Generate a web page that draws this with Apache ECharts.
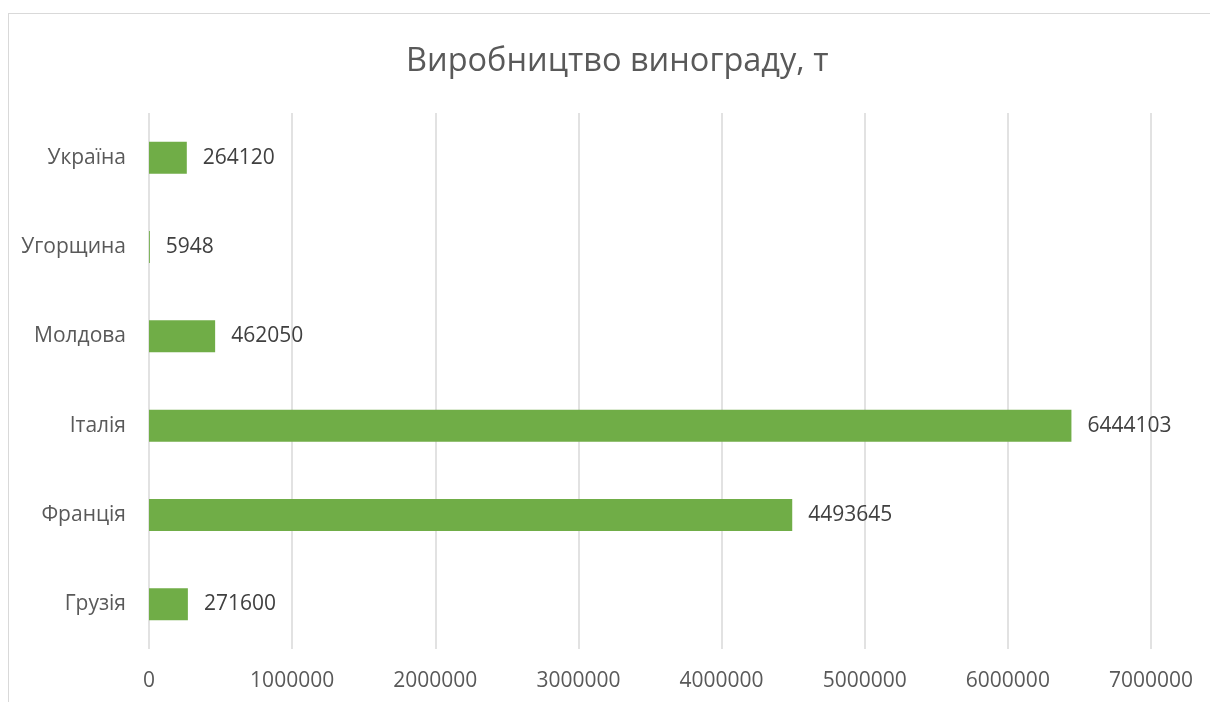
<!DOCTYPE html>
<html>
<head>
<meta charset="utf-8">
<script src="https://cdn.jsdelivr.net/npm/echarts@6/dist/echarts.min.js"></script>
<style>
    html, body { margin: 0; padding: 0; background: #fff; }
    #frame { position: absolute; left: 8px; top: 13px; width: 1300px; height: 800px; border: 1px solid #d9d9d9; box-sizing: border-box; }
    #chart { position: absolute; left: 0; top: 0; width: 1210px; height: 702px; }
</style>
</head>
<body>
<div id="frame"></div>
<div id="chart"></div>
<script>
// bottom to top, same as the picture
const countries = ['Грузія', 'Франція', 'Італія', 'Молдова', 'Угорщина', 'Україна'];
const production = [271600, 4493645, 6444103, 462050, 5948, 264120];
const axisTicks = [0, 1000000, 2000000, 3000000, 4000000, 5000000, 6000000, 7000000];

const font = '"Open Sans", "Noto Sans", sans-serif';

let myChart = echarts.init(document.getElementById('chart'));
myChart.setOption({
    animation: false,
    title: {
        text: 'Виробництво винограду, т',
        left: 401,
        top: 40,
        textStyle: { fontFamily: font, fontSize: 32.5, fontWeight: 'normal', color: '#595959' }
    },
    grid: { left: 149, right: 59, top: 113, bottom: 53, containLabel: false },
    xAxis: {
        type: 'value',
        min: axisTicks[0],
        max: axisTicks[axisTicks.length - 1],
        interval: axisTicks[1] - axisTicks[0],
        axisLine: { show: false },
        axisTick: { show: false },
        axisLabel: {
            margin: 22, fontFamily: font, fontSize: 21, color: '#595959',
            formatter: v => String(v)
        },
        splitLine: { show: true, lineStyle: { color: '#d9d9d9', width: 1.5 } }
    },
    yAxis: {
        type: 'category',
        data: countries,
        axisLine: { show: false },
        axisTick: { show: false },
        axisLabel: { margin: 23, fontFamily: font, fontSize: 21, color: '#595959' }
    },
    series: [{
        type: 'bar',
        data: production,
        barWidth: 32,
        itemStyle: { color: '#70ad47' },
        label: {
            show: true,
            position: 'right',
            distance: 16,
            fontFamily: font,
            fontSize: 21,
            color: '#404040'
        }
    }]
});
</script>
</body>
</html>
